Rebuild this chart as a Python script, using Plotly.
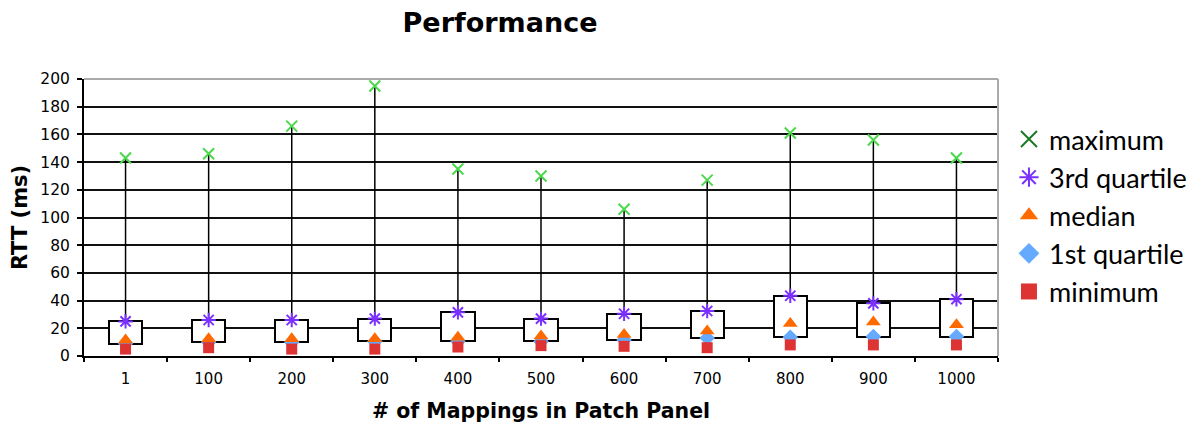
import plotly.graph_objects as go

categories = ["1", "100", "200", "300", "400", "500", "600", "700", "800", "900", "1000"]
maximum = [143, 146, 166, 195, 135, 130, 106, 127, 161, 156, 143]
q3 = [25, 26, 26, 27, 31.5, 27, 30.5, 32.5, 43.5, 38, 41]
median = [11.5, 12.5, 12.5, 12.5, 13.5, 14.5, 15.5, 18, 23.5, 24.5, 22.5]
q1 = [9, 10, 10, 10.5, 10.5, 10.5, 11.5, 13, 13.5, 14, 14]
minimum = [5, 6, 5, 5, 6.5, 7.5, 7, 6, 8, 8, 8]

y_ticks = [0, 20, 40, 60, 80, 100, 120, 140, 160, 180, 200]

W, H = 1196, 415

fig = go.Figure()

# boxes (Q1 -> Q3)
fig.add_trace(go.Bar(
    x=categories, y=[a - b for a, b in zip(q3, q1)], base=q1, width=0.4,
    marker=dict(color="white", line=dict(color="black", width=2)),
    showlegend=False, hoverinfo="skip"))

# whiskers
wx, wy = [], []
for c, hi, top, bot, lo in zip(categories, maximum, q3, q1, minimum):
    wx += [c, c, None, c, c, None]
    wy += [hi, top, None, bot, lo, None]
fig.add_trace(go.Scatter(x=wx, y=wy, mode="lines", line=dict(color="black", width=1.5),
                         showlegend=False, hoverinfo="skip"))

# legend order
series = [
    ("maximum", maximum, "x-thin", "#4cd84c", "#1a7a24", 11),
    ("3rd quartile", q3, "asterisk", "#7a30ff", "#7a30ff", 12),
    ("median", median, "triangle-up", "#ff6a00", "#ff6a00", 13),
    ("1st quartile", q1, "diamond", "#66aaff", "#66aaff", 12),
    ("minimum", minimum, "square", "#dd3333", "#dd3333", 11),
]
draw_order = [0, 1, 3, 2, 4]

for idx in draw_order:
    name, vals, sym, col, lcol, size = series[idx]
    line_only = sym in ("x-thin", "asterisk")
    mk = dict(symbol=sym, size=size, color=col)
    if line_only:
        mk["line"] = dict(color=col, width=2)
    fig.add_trace(go.Scatter(x=categories, y=vals, mode="markers", marker=mk,
                             name=name, showlegend=False))

# legend entries
for name, vals, sym, col, lcol, size in series:
    line_only = sym in ("x-thin", "asterisk")
    mk = dict(symbol=sym, size=16, color=lcol)
    if line_only:
        mk["line"] = dict(color=lcol, width=2)
    fig.add_trace(go.Scatter(x=[None], y=[None], mode="markers", marker=mk,
                             name=name, showlegend=True))

fig.update_layout(
    width=W, height=H,
    margin=dict(l=76, r=202, t=71, b=67),
    paper_bgcolor="white", plot_bgcolor="white",
    title=dict(text="<b>Performance</b>", x=492 / W, xanchor="center", xref="container",
               y=1 - 15 / H, yanchor="middle", yref="container",
               font=dict(family="DejaVu Sans", size=27, color="black")),
    font=dict(family="DejaVu Sans", color="black"),
    legend=dict(x=1.012, y=0.87, xanchor="left", yanchor="top",
                font=dict(family="Lato", size=27, color="black"),
                tracegroupgap=0, bgcolor="rgba(0,0,0,0)"),
    bargap=0,
    shapes=[
        dict(type="line", xref="paper", yref="paper", x0=0, x1=1, y0=1, y1=1,
             line=dict(color="#aaaaaa", width=2), layer="above"),
        dict(type="line", xref="paper", yref="paper", x0=1, x1=1, y0=0, y1=1,
             line=dict(color="#aaaaaa", width=2), layer="above"),
    ],
)

fig.update_xaxes(
    type="category", categoryorder="array", categoryarray=categories,
    range=[-0.5, len(categories) - 0.5], automargin=False,
    tickson="boundaries", ticks="outside", ticklen=4, tickcolor="black", tickwidth=1.5,
    ticklabelstandoff=8,
    showline=True, linecolor="black", linewidth=2, showgrid=False,
    tickfont=dict(family="DejaVu Sans", size=15, color="black"),
    title=dict(text="<b># of Mappings in Patch Panel</b>", standoff=20,
               font=dict(family="DejaVu Sans", size=20.5, color="black")),
)
fig.update_yaxes(
    range=[0, 200], tickvals=y_ticks, ticks="outside", ticklen=5, tickcolor="black",
    tickwidth=1.5, ticklabelstandoff=4, automargin=False,
    showline=True, linecolor="black", linewidth=2,
    showgrid=True, gridcolor="#111111", gridwidth=1.5, zeroline=False,
    tickfont=dict(family="DejaVu Sans", size=15.5, color="black"),
    title=dict(text="<b>RTT (ms)</b>", standoff=8,
               font=dict(family="DejaVu Sans", size=21, color="black")),
)

fig.write_html("out.html")
